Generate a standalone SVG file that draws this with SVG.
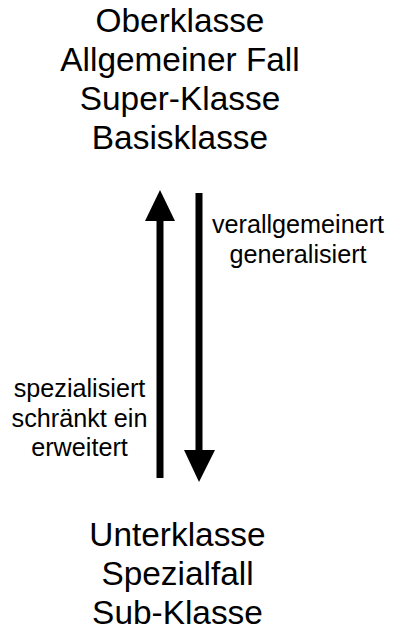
<svg xmlns="http://www.w3.org/2000/svg" width="400" height="635" viewBox="0 0 400 635">
<style>
text{font-family:"Liberation Sans",Arial,sans-serif;fill:#000;text-anchor:middle}
.big{font-size:33.4px}
.small{font-size:25.2px}
.shaft{stroke:#000;stroke-width:7;fill:none}
</style>
<rect width="400" height="635" fill="#fff"/>
<g id="top">
<text class="big" x="180" y="32">Oberklasse</text>
<text class="big" x="180" y="71">Allgemeiner Fall</text>
<text class="big" x="180" y="110">Super-Klasse</text>
<text class="big" x="180" y="149">Basisklasse</text>
</g>
<g id="bottom">
<text class="big" x="177.5" y="546">Unterklasse</text>
<text class="big" x="177.5" y="585">Spezialfall</text>
<text class="big" x="177.5" y="624">Sub-Klasse</text>
</g>
<g id="connectors">
<line class="shaft" x1="160" y1="478" x2="160" y2="215"/>
<polygon points="160,190 145,221 175,221" fill="#000"/>
<line class="shaft" x1="199" y1="193" x2="199" y2="455"/>
<polygon points="199,482 184,450 215,450" fill="#000"/>
</g>
<g id="label-up">
<text class="small" x="79.5" y="397">spezialisiert</text>
<text class="small" x="79.5" y="427">schränkt ein</text>
<text class="small" x="79.5" y="456">erweitert</text>
</g>
<g id="label-down">
<text class="small" x="298" y="233">verallgemeinert</text>
<text class="small" x="298" y="263">generalisiert</text>
</g>
</svg>
